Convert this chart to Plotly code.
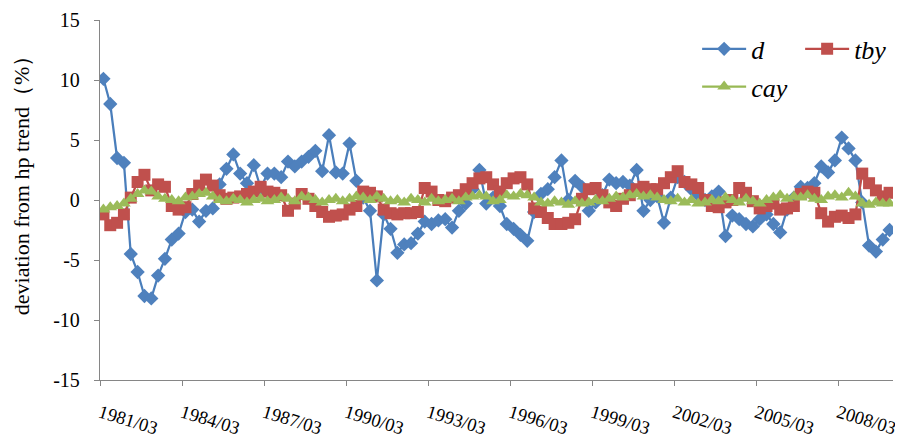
import plotly.graph_objects as go

tick_labels = ["1981/03", "1984/03", "1987/03", "1990/03", "1993/03",
               "1996/03", "1999/03", "2002/03", "2005/03", "2008/03"]
y_ticks = [-15, -10, -5, 0, 5, 10, 15]
y_tick_text = ["-15", "-10", "-5", "0", "5", "10", "15"]

d = [10.1, 8.0, 3.5, 3.1, -4.5, -6.0, -8.0, -8.2, -6.3, -4.9,
     -3.3, -2.8, -1.0, -0.8, -1.8, -0.9, -0.7, 1.3, 2.6, 3.8,
     2.2, 1.4, 2.9, 1.0, 2.2, 2.2, 1.9, 3.2, 2.8, 3.2,
     3.6, 4.1, 2.4, 5.4, 2.3, 2.2, 4.7, 1.6, 0.2, -0.9,
     -6.7, -1.2, -2.4, -4.4, -3.7, -3.6, -2.8, -1.8, -2.0, -1.7,
     -1.6, -2.3, -0.9, -0.3, 0.9, 2.5, -0.3, 0.2, -0.5, -2.0,
     -2.4, -2.9, -3.4, -1.0, 0.5, 0.9, 1.9, 3.3, 0.0, 1.6,
     1.1, -0.9, -0.2, 0.4, 1.7, 1.4, 1.5, 1.2, 2.5, -0.9,
     0.0, 0.3, -1.9, 0.2, 1.9, 1.5, 0.9, 0.4, 0.0, 0.3,
     0.7, -3.0, -1.3, -1.6, -2.0, -2.2, -1.6, -1.2, -2.0, -2.7,
     -0.8, 0.2, 1.1, 1.0, 1.4, 2.8, 2.3, 3.3, 5.2, 4.3,
     3.3, -0.2, -3.8, -4.3, -3.3, -2.5]

tby = [-1.2, -2.1, -1.9, -1.2, 0.2, 1.5, 2.1, 0.8, 1.3, 1.1,
       -0.5, -0.8, -0.6, 0.5, 1.2, 1.7, 1.2, 0.4, 0.1, 0.2,
       0.3, 0.5, 0.7, 1.1, 0.7, 0.6, 0.4, -0.9, -0.3, 0.5,
       0.1, -0.5, -1.0, -1.4, -1.3, -1.2, -0.8, -0.5, 0.7, 0.6,
       0.3, -0.8, -1.1, -1.2, -1.1, -1.1, -1.0, 1.0, 0.7, 0.0,
       -0.1, 0.2, 0.4, 0.9, 1.4, 1.8, 1.9, 1.3, 0.7, 1.4,
       1.8, 1.9, 1.3, -0.7, -1.0, -1.5, -2.0, -2.0, -1.9, -1.6,
       0.1, 0.9, 1.0, 0.4, -0.2, -0.5, 0.1, 0.4, 0.9, 1.1,
       0.9, 0.9, 1.4, 1.9, 2.4, 1.5, 1.3, 1.0, 0.0, -0.5,
       -0.6, -0.2, 0.0, 1.0, 0.6, -0.1, -0.7, -0.5, -0.3, -0.8,
       -0.7, -0.5, 0.5, 0.7, 0.6, -1.1, -1.8, -1.4, -1.3, -1.5,
       -1.2, 2.2, 1.4, 0.8, 0.3, 0.6]

cay = [-0.8, -0.6, -0.5, -0.3, 0.1, 0.5, 0.8, 0.7, 0.3, 0.1,
       0.0, -0.1, 0.2, 0.3, 0.5, 0.6, 0.3, 0.0, -0.1, 0.1,
       0.0, -0.2, 0.0, 0.1, -0.1, 0.0, 0.2, 0.1, -0.1, 0.3,
       0.2, 0.0, -0.2, 0.0, 0.1, -0.1, 0.1, 0.3, 0.2, 0.0,
       0.3, 0.1, -0.1, 0.0, -0.2, 0.1, 0.0, -0.2, 0.1, -0.1,
       0.0, 0.1, -0.1, 0.2, 0.3, 0.4, 0.3, -0.1, 0.0, 0.4,
       0.3, 0.5, 0.4, 0.2, -0.2, -0.3, -0.1, -0.2, -0.4, -0.1,
       -0.3, -0.2, 0.0, -0.1, 0.1, 0.3, 0.2, 0.4, 0.5, 0.3,
       0.4, 0.2, 0.0, -0.1, 0.1, -0.2, 0.0, -0.3, -0.2, 0.0,
       -0.1, 0.2, 0.0, -0.2, 0.1, -0.1, -0.3, 0.0, 0.2, 0.4,
       0.1, 0.3, 0.2, 0.4, 0.1, 0.0, 0.3, 0.4, 0.2, 0.6,
       0.3, -0.3, -0.4, -0.2, -0.3, -0.3]

n = len(d)
x = list(range(n))
serif = "Liberation Serif, Times New Roman, serif"
axis_grey = "#868686"

fig = go.Figure()
fig.add_trace(go.Scatter(
    x=x, y=d, name="d", mode="lines+markers",
    line=dict(color="#4A7EBB", width=2.25),
    marker=dict(symbol="diamond", size=11, color="#4F81BD"),
    legend="legend"))
fig.add_trace(go.Scatter(
    x=x, y=tby, name="tby", mode="lines+markers",
    line=dict(color="#BE4B48", width=2.25),
    marker=dict(symbol="square", size=12, color="#C0504D"),
    legend="legend"))
fig.add_trace(go.Scatter(
    x=x, y=cay, name="cay", mode="lines+markers",
    line=dict(color="#98B954", width=2.25),
    marker=dict(symbol="triangle-up", size=12, color="#9BBB59"),
    legend="legend2"))

# The page body adds an 8px offset, so the figure is sized to end at the window edge.
fig.update_layout(
    width=895, height=434,
    margin=dict(l=92, r=10, t=12, b=62, autoexpand=False),
    plot_bgcolor="white", paper_bgcolor="white",
    font=dict(family=serif, size=18, color="black"),
    showlegend=True,
    xaxis=dict(
        range=[-0.5, n - 0.5],
        tickmode="array",
        tickvals=[-0.5 + 12 * k for k in range(len(tick_labels))],
        ticktext=tick_labels,
        tickangle=17,
        ticks="outside", ticklen=5, tickcolor=axis_grey,
        showline=True, linecolor=axis_grey, linewidth=1.3,
        showgrid=False, zeroline=False, automargin=False,
        ticklabelstandoff=9, ticklabeloverflow="allow",
        tickfont=dict(family=serif, size=18.5, color="black"),
    ),
    yaxis=dict(
        range=[-15, 15], tickmode="array",
        tickvals=y_ticks, ticktext=y_tick_text,
        ticks="outside", ticklen=5, tickcolor=axis_grey,
        showline=True, linecolor=axis_grey, linewidth=1.3,
        showgrid=False, zeroline=False, automargin=False,
        ticklabelstandoff=10, ticklabeloverflow="allow",
        tickfont=dict(family=serif, size=20, color="black"),
    ),
    legend=dict(
        orientation="h", xref="paper", yref="paper",
        x=0.753, y=0.985, xanchor="left", yanchor="top",
        font=dict(family=serif, size=26, style="italic", color="black"),
        itemwidth=44, entrywidth=44, bgcolor="rgba(0,0,0,0)",
    ),
    legend2=dict(
        orientation="h", xref="paper", yref="paper",
        x=0.753, y=0.88, xanchor="left", yanchor="top",
        font=dict(family=serif, size=26, style="italic", color="black"),
        itemwidth=44, bgcolor="rgba(0,0,0,0)",
    ),
    annotations=[dict(
        text="deviation from hp trend（%）",
        xref="paper", yref="paper", x=-0.0996, y=0.555,
        xanchor="center", yanchor="middle", textangle=-90,
        showarrow=False, font=dict(family=serif, size=22, color="black"),
    )],
)

fig.write_html("out.html")
